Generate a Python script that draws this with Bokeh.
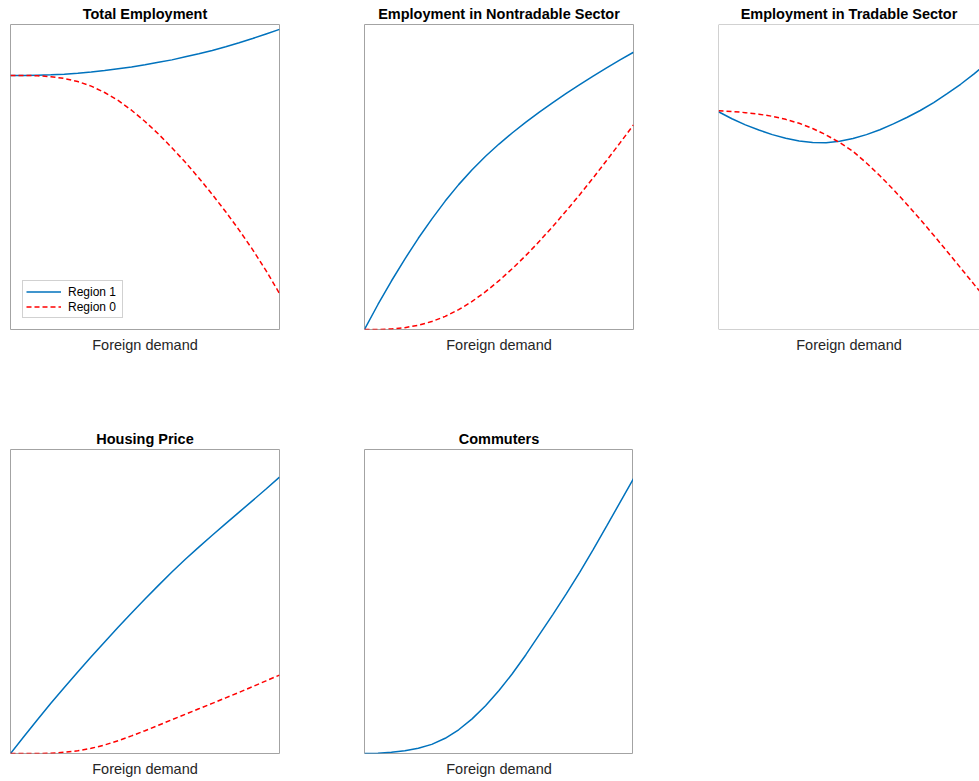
from bokeh.plotting import figure
from bokeh.layouts import column, row
from bokeh.models import Range1d, Title, Legend, LegendItem, BoxAnnotation
from bokeh.embed import file_html
from bokeh.resources import INLINE

# ---------------- data (normalised to each panel) -------------
foreign_demand = [0.00, 0.05, 0.10, 0.15, 0.20, 0.25, 0.30, 0.35, 0.40, 0.45, 0.50,
                  0.55, 0.60, 0.65, 0.70, 0.75, 0.80, 0.85, 0.90, 0.95, 1.00]

total_emp_region1 = [0.833, 0.833, 0.834, 0.835, 0.837, 0.840, 0.844, 0.849, 0.855, 0.861, 0.868,
                     0.876, 0.884, 0.894, 0.904, 0.915, 0.927, 0.940, 0.954, 0.969, 0.984]
total_emp_region0 = [0.833, 0.833, 0.832, 0.829, 0.823, 0.813, 0.798, 0.777, 0.751, 0.719, 0.682,
                     0.641, 0.596, 0.548, 0.497, 0.443, 0.386, 0.326, 0.262, 0.193, 0.118]

nontradable_region1 = [0.000, 0.082, 0.159, 0.231, 0.299, 0.362, 0.421, 0.475, 0.524, 0.568, 0.608,
                       0.645, 0.680, 0.713, 0.744, 0.774, 0.803, 0.831, 0.858, 0.884, 0.909]
nontradable_region0 = [0.000, 0.000, 0.002, 0.006, 0.014, 0.026, 0.043, 0.065, 0.092, 0.124, 0.160,
                       0.200, 0.243, 0.289, 0.338, 0.389, 0.442, 0.497, 0.554, 0.612, 0.671]

tradable_region1 = [0.714, 0.691, 0.671, 0.654, 0.639, 0.627, 0.618, 0.613, 0.612, 0.617, 0.626,
                    0.639, 0.655, 0.674, 0.695, 0.718, 0.744, 0.773, 0.804, 0.838, 0.875]
tradable_region0 = [0.717, 0.715, 0.711, 0.706, 0.699, 0.689, 0.676, 0.659, 0.638, 0.613, 0.584,
                    0.546, 0.504, 0.459, 0.411, 0.361, 0.309, 0.256, 0.202, 0.148, 0.094]

housing_region1 = [0.000, 0.056, 0.111, 0.165, 0.217, 0.268, 0.318, 0.367, 0.415, 0.462, 0.508,
                   0.553, 0.597, 0.639, 0.679, 0.718, 0.756, 0.794, 0.832, 0.870, 0.909]
housing_region0 = [0.000, 0.000, 0.000, 0.001, 0.004, 0.009, 0.017, 0.028, 0.042, 0.058, 0.075,
                   0.093, 0.111, 0.129, 0.147, 0.165, 0.183, 0.201, 0.220, 0.239, 0.258]

commuters = [0.000, 0.001, 0.004, 0.009, 0.017, 0.030, 0.050, 0.078, 0.114, 0.157, 0.207,
             0.263, 0.325, 0.391, 0.457, 0.525, 0.596, 0.671, 0.748, 0.826, 0.904]

panel_titles = ["Total Employment", "Employment in Nontradable Sector",
                "Employment in Tradable Sector", "Housing Price", "Commuters"]
x_label = "Foreign demand"
legend_labels = ["Region 1", "Region 0"]

# ---------------- styling ----------------
BLUE = "#0072BD"
RED = "#FF0000"
FRAME = "#a3a3a3"
FONT = "Liberation Sans"
FRAME_W = 269
FRAME_H = 305
LW = 1.5


def make_panel(title, frame_w, b_left, b_right, b_top, b_bottom,
               x_end=1.0, outline=True, title_offset=0):
    p = figure(width=b_left + frame_w + b_right, height=b_top + FRAME_H + b_bottom,
               x_range=Range1d(0, x_end), y_range=Range1d(0, 1),
               x_axis_type=None, y_axis_type=None,
               toolbar_location=None, output_backend="svg",
               min_border_left=b_left, min_border_right=b_right,
               min_border_top=b_top, min_border_bottom=b_bottom)
    p.title.text = title
    p.title.align = "center"
    p.title.text_font = FONT
    p.title.text_font_size = "14.5px"
    p.title.text_font_style = "bold"
    p.title.text_color = "#000000"
    p.title.standoff = 6
    p.title.offset = title_offset
    p.add_layout(Title(text=x_label, align="center", text_font=FONT,
                       text_font_size="14.5px", text_font_style="normal",
                       text_color="#262626", standoff=10), "below")
    p.background_fill_color = "white"
    p.border_fill_color = "white"
    if outline:
        p.outline_line_color = FRAME
        p.outline_line_width = 1
    else:
        p.outline_line_color = None
        p.add_layout(BoxAnnotation(left=0, right=1, bottom=0, top=1,
                                   fill_alpha=0, line_color=FRAME, line_alpha=1,
                                   line_width=1))
    return p


def add_lines(p, y1, y0=None):
    r1 = p.line(foreign_demand, y1, line_color=BLUE, line_width=LW)
    r0 = None
    if y0 is not None:
        r0 = p.line(foreign_demand, y0, line_color=RED, line_width=LW, line_dash="5 3")
    return r1, r0


# Row 1
p1 = make_panel(panel_titles[0], FRAME_W, 10, 85, 24, 60)
r1, r0 = add_lines(p1, total_emp_region1, total_emp_region0)
legend = Legend(items=[LegendItem(label=legend_labels[0], renderers=[r1]),
                       LegendItem(label=legend_labels[1], renderers=[r0])],
                location=(12, 11), margin=0, padding=3, spacing=0,
                glyph_width=35, glyph_height=15, label_height=15, label_width=51,
                label_standoff=7, label_text_font=FONT, label_text_font_size="12px",
                label_text_color="#000000", border_line_color=FRAME, border_line_width=1,
                background_fill_color="white", background_fill_alpha=1)
p1.add_layout(legend, "center")

p2 = make_panel(panel_titles[1], FRAME_W, 0, 85, 24, 60)
add_lines(p2, nontradable_region1, nontradable_region0)

visible_w = 979 - (10 + FRAME_W + 85 + FRAME_W + 85)
p3 = make_panel(panel_titles[2], visible_w, 0, 0, 24, 60,
                x_end=visible_w / FRAME_W, outline=False, title_offset=4)
add_lines(p3, tradable_region1, tradable_region0)

# Row 2
p4 = make_panel(panel_titles[3], FRAME_W, 10, 85, 60, 27)
add_lines(p4, housing_region1, housing_region0)

p5 = make_panel(panel_titles[4], FRAME_W, 0, 0, 60, 27)
add_lines(p5, commuters)

layout = column(row(p1, p2, p3, spacing=0), row(p4, p5, spacing=0), spacing=0)

open("out.html", "w").write(file_html(layout, INLINE))
